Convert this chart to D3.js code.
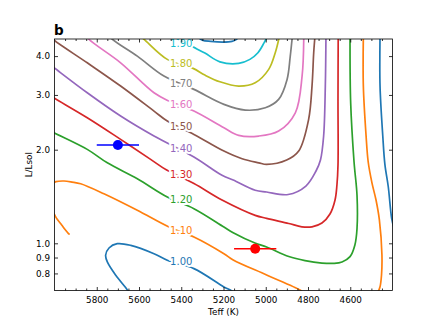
<!DOCTYPE html>
<html>
<head>
<meta charset="utf-8">
<script src="https://cdn.jsdelivr.net/npm/d3@7"></script>
<style>
  body { margin: 0; background: #fff; }
  text { font-family: "DejaVu Sans", sans-serif; }
</style>
</head>
<body>
<div class="canvas"></div>
<script>
// contour levels and the lines, [Teff, L/Lsol]
const levels = [1.00, 1.10, 1.20, 1.30, 1.40, 1.50, 1.60, 1.70, 1.80, 1.90, 2.00];

const c100a = [[5647,0.692],[5655,0.708],[5710,0.789],[5750,0.871],[5758,0.915],[5742,0.966],[5703,0.997],[5639,0.985],[5529,0.926],[5466,0.882],[5340,0.829],[5198,0.724],[5161,0.703],[5150,0.692]];
const c100b = [[4459,4.64],[4459,3.204],[4446,2.213],[4436,1.794],[4420,1.520],[4404,1.203],[4393,1.12]];
const c110a = [[6007,1.562],[5993,1.579],[5955,1.586],[5917,1.574],[5876,1.554],[5766,1.443],[5608,1.277],[5458,1.128],[5340,1.048],[5198,0.926],[5154,0.884],[4996,0.791],[4838,0.708],[4824,0.697]];
const c110b = [[4538,4.64],[4538,3.204],[4525,2.213],[4515,1.826],[4497,1.562],[4478,1.378],[4462,1.188],[4450,0.917],[4452,0.791],[4459,0.725],[4471,0.692]];
const c110c = [[6012,1.270],[6002,1.242],[5988,1.197],[5966,1.145],[5950,1.107],[5934,1.075],[5931,1.071]];
const c120 = [[6021,2.305],[6002,2.267],[5845,2.005],[5750,1.815],[5608,1.613],[5466,1.409],[5340,1.292],[5198,1.128],[5154,1.082],[5051,1.002],[4996,0.973],[4891,0.907],[4814,0.880],[4734,0.864],[4677,0.862],[4639,0.871],[4601,0.906],[4578,0.988],[4568,1.114],[4568,1.427],[4582,1.826],[4598,2.831],[4601,4.64]];
const c130 = [[6021,2.988],[6002,2.931],[5845,2.534],[5687,2.159],[5545,1.862],[5469,1.720],[5340,1.557],[5207,1.378],[5050,1.230],[4996,1.203],[4891,1.158],[4829,1.130],[4781,1.130],[4734,1.162],[4696,1.242],[4672,1.378],[4663,1.540],[4658,1.785],[4658,2.89],[4657,4.64]];
const c140 = [[6021,3.751],[6002,3.668],[5845,3.048],[5687,2.566],[5529,2.213],[5340,1.894],[5207,1.654],[5154,1.597],[5050,1.481],[4996,1.462],[4894,1.435],[4810,1.528],[4762,1.708],[4741,1.852],[4726,2.213],[4718,3.204],[4715,4.64]];
const c150 = [[6021,4.63],[6002,4.50],[5845,3.806],[5687,3.204],[5529,2.662],[5466,2.472],[5340,2.240],[5198,1.980],[5112,1.870],[5033,1.815],[4996,1.794],[4901,1.852],[4844,1.980],[4797,2.504],[4781,3.204],[4773,4.100],[4767,4.64]];
const c160 = [[5846,4.64],[5837,4.53],[5687,3.806],[5529,3.048],[5458,2.867],[5340,2.662],[5198,2.352],[5128,2.224],[5033,2.213],[4939,2.296],[4860,2.629],[4828,3.450],[4820,4.64]];
const c170 = [[5738,4.64],[5726,4.53],[5608,4.000],[5482,3.450],[5340,3.126],[5198,2.798],[5097,2.682],[5002,2.729],[4939,2.903],[4899,3.366],[4884,4.000],[4874,4.64]];
const c180 = [[5595,4.638],[5576,4.53],[5466,3.904],[5344,3.652],[5288,3.475],[5217,3.307],[5128,3.204],[5050,3.283],[4986,3.625],[4955,4.100],[4935,4.64]];
const c190 = [[5444,4.64],[5401,4.486],[5345,4.285],[5288,4.090],[5217,3.834],[5128,3.789],[5075,3.904],[5037,4.100],[5008,4.413],[4994,4.60]];
const c200 = [[5320,4.60],[5300,4.50],[5260,4.46],[5202,4.437],[5160,4.46],[5140,4.52],[5130,4.60]];

// inline label positions (one per level, 1.00 .. 1.90)
const labelTeff = [5400, 5400, 5400, 5400, 5400, 5400, 5400, 5400, 5400, 5400];
const labelL = [0.871, 1.101, 1.381, 1.666, 2.014, 2.382, 2.798, 3.268, 3.789, 4.404];

// the two stars
const starTeff = [5700, 5050];
const starTeffErr = [100, 100];
const starL = [2.07, 0.96];

const xTicks = [5800, 5600, 5400, 5200, 5000, 4800, 4600];
const yTicks = [0.8, 0.9, 1.0, 2.0, 3.0, 4.0];

const contours = [
    { level: 0, pts: c100a }, { level: 0, pts: c100b },
    { level: 1, pts: c110a }, { level: 1, pts: c110b }, { level: 1, pts: c110c },
    { level: 2, pts: c120 }, { level: 3, pts: c130 }, { level: 4, pts: c140 },
    { level: 5, pts: c150 }, { level: 6, pts: c160 }, { level: 7, pts: c170 },
    { level: 8, pts: c180 }, { level: 9, pts: c190 }, { level: 10, pts: c200 }
];

const colors = d3.schemeCategory10;
const starColors = ['#0000ff', '#ff0000'];

const svg = d3.select('.canvas')
    .append('svg')
    .attr('width', 436)
    .attr('height', 327);

const margin = { top: 39, right: 43.5, bottom: 36.5, left: 54.5 };
const graphWidth = 436 - margin.left - margin.right;
const graphHeight = 327 - margin.top - margin.bottom;

const graph = svg.append('g')
    .attr('transform', `translate(${margin.left}, ${margin.top})`);

const x = d3.scaleLinear()
    .domain([6000, 4400])
    .range([0, graphWidth]);

const y = d3.scaleLog()
    .domain([0.705, 4.54])
    .range([graphHeight, 0]);

graph.append('clipPath')
    .attr('id', 'clip')
    .append('rect')
    .attr('width', graphWidth)
    .attr('height', graphHeight);

const line = d3.line()
    .x(d => x(d[0]))
    .y(d => y(d[1]))
    .curve(d3.curveCatmullRom.alpha(0.5));

const lines = graph.append('g').attr('clip-path', 'url(#clip)');

lines.selectAll('path')
    .data(contours)
    .enter()
    .append('path')
    .attr('d', d => line(d.pts))
    .attr('fill', 'none')
    .attr('stroke', d => colors[d.level % 10])
    .attr('stroke-width', 1.7)
    .attr('stroke-linejoin', 'round')
    .attr('stroke-linecap', 'round');

// inline contour labels, white halo stands in for the gap in the line
lines.selectAll('text')
    .data(labelL)
    .enter()
    .append('text')
    .attr('x', (d, i) => x(labelTeff[i]))
    .attr('y', d => y(d))
    .attr('text-anchor', 'middle')
    .attr('dominant-baseline', 'central')
    .attr('font-size', '10px')
    .attr('fill', (d, i) => colors[i])
    .attr('stroke', '#fff')
    .attr('stroke-width', 4)
    .attr('paint-order', 'stroke')
    .text((d, i) => levels[i].toFixed(2));

// stars with Teff error bars
const stars = graph.append('g');
starTeff.forEach((t, i) => {
    stars.append('line')
        .attr('x1', x(t - starTeffErr[i]))
        .attr('x2', x(t + starTeffErr[i]))
        .attr('y1', y(starL[i]))
        .attr('y2', y(starL[i]))
        .attr('stroke', starColors[i])
        .attr('stroke-width', 1.5);
    stars.append('circle')
        .attr('cx', x(t))
        .attr('cy', y(starL[i]))
        .attr('r', 5)
        .attr('fill', starColors[i]);
});

// axes, ticks pointing inward on all sides
const minorX = d3.range(5950, 4400, -50).filter(v => v % 200 !== 0);

const xAxisGroup = graph.append('g')
    .attr('transform', `translate(0, ${graphHeight})`);
xAxisGroup.call(d3.axisBottom(x).tickValues(xTicks).tickSize(-3.5).tickPadding(6).tickFormat(d3.format('d')));
graph.append('g')
    .attr('transform', `translate(0, ${graphHeight})`)
    .call(d3.axisBottom(x).tickValues(minorX).tickSize(-2).tickFormat(''));
graph.append('g').call(d3.axisTop(x).tickValues(xTicks).tickSize(-3.5).tickFormat(''));
graph.append('g').call(d3.axisTop(x).tickValues(minorX).tickSize(-2).tickFormat(''));

const yAxisGroup = graph.append('g');
yAxisGroup.call(d3.axisLeft(y).tickValues(yTicks).tickSize(-3.5).tickPadding(4.5).tickFormat(d3.format('.1f')));
graph.append('g')
    .attr('transform', `translate(${graphWidth}, 0)`)
    .call(d3.axisRight(y).tickValues(yTicks).tickSize(-3.5).tickFormat(''));

graph.selectAll('.domain').remove();
graph.selectAll('.tick line').attr('stroke', '#000').attr('stroke-width', 0.8);
graph.selectAll('.tick text')
    .attr('font-family', 'DejaVu Sans')
    .attr('font-size', '8.8px')
    .attr('fill', '#000');

graph.append('rect')
    .attr('width', graphWidth)
    .attr('height', graphHeight)
    .attr('fill', 'none')
    .attr('stroke', '#000')
    .attr('stroke-width', 0.8);

// labels
svg.append('text')
    .attr('x', margin.left + graphWidth / 2)
    .attr('y', 315)
    .attr('text-anchor', 'middle')
    .attr('font-size', '8.8px')
    .text('Teff (K)');

svg.append('text')
    .attr('transform', `translate(32, ${margin.top + graphHeight / 2}) rotate(-90)`)
    .attr('text-anchor', 'middle')
    .attr('font-size', '8.8px')
    .text('L/Lsol');

svg.append('text')
    .attr('x', 54)
    .attr('y', 35)
    .attr('font-size', '13.5px')
    .attr('font-weight', 'bold')
    .text('b');
</script>
</body>
</html>
